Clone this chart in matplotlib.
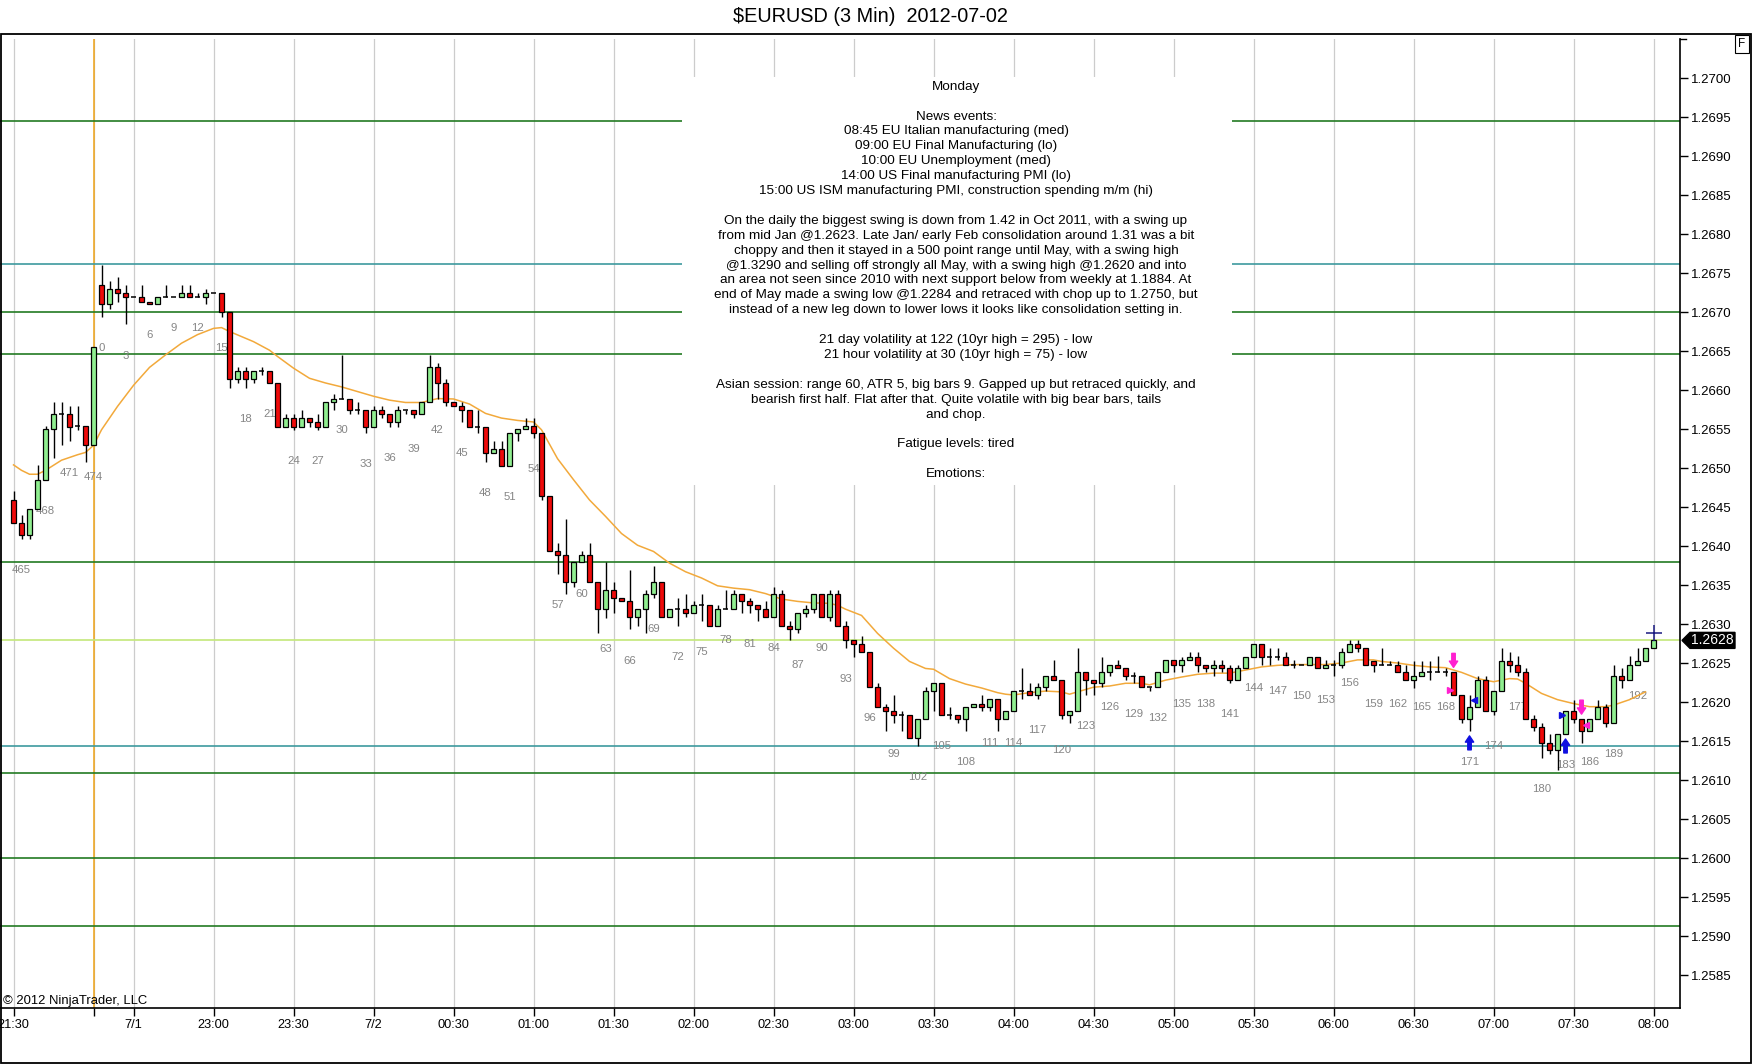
import numpy as np
import matplotlib.pyplot as plt
from matplotlib.patches import Rectangle, Polygon
from matplotlib.transforms import blended_transform_factory

plt.rcParams['font.family'] = ['Liberation Sans', 'DejaVu Sans']

# all prices below are in pips above 1.2600
BASE = 1.2600
PIP = 0.0001

# last bars of the Friday session, then the new session starting at bar 0
fri_bars = list(range(464, 475))
sun_bars = list(range(0, 195))

fri_open = [45.9, 42.9, 41.4, 44.8, 48.5, 55.0, 56.9, 56.9, 55.4, 55.4, 52.9]
fri_high = [47.0, 44.0, 44.8, 50.4, 55.4, 58.4, 58.4, 58.0, 58.0, 55.4, 65.5]
fri_low = [42.9, 40.9, 40.9, 44.8, 48.5, 51.3, 52.9, 53.4, 54.9, 50.8, 52.9]
fri_close = [42.9, 41.4, 44.8, 48.5, 55.0, 56.9, 56.9, 55.3, 55.4, 52.9, 65.5]

sun_open = [
    73.5, 71.0, 72.9, 72.4, 71.9, 71.9, 71.3, 71.0, 71.9, 71.9,
    71.9, 72.4, 71.9, 71.9, 72.4, 72.4, 70.0, 61.4, 62.4, 61.4,
    62.4, 62.4, 60.9, 55.3, 56.4, 55.3, 56.4, 55.9, 55.3, 58.4,
    58.9, 58.9, 57.4, 57.4, 55.3, 57.4, 56.9, 55.9, 57.4, 57.4,
    56.9, 58.4, 62.9, 60.9, 58.4, 58.0, 57.4, 55.3, 55.3, 51.9,
    52.4, 50.3, 54.5, 55.0, 55.4, 54.5, 46.4, 39.3, 38.8, 35.4,
    37.9, 38.8, 35.4, 31.9, 34.3, 33.3, 32.9, 30.9, 31.9, 33.8,
    35.4, 30.9, 31.9, 31.9, 31.4, 32.4, 32.4, 29.8, 31.9, 31.9,
    33.8, 32.9, 32.4, 31.9, 30.9, 33.8, 29.8, 29.3, 31.4, 31.9,
    33.8, 30.9, 33.8, 29.8, 27.9, 27.4, 26.4, 21.9, 19.3, 18.8,
    18.3, 18.3, 15.4, 17.8, 21.4, 22.4, 18.3, 18.3, 17.8, 19.3,
    19.8, 19.3, 20.4, 17.8, 18.8, 21.4, 21.4, 20.9, 21.9, 23.3,
    22.8, 18.3, 18.8, 23.8, 22.8, 22.4, 23.8, 24.8, 24.3, 23.3,
    23.3, 21.9, 21.9, 23.8, 25.4, 24.8, 25.4, 25.8, 24.8, 24.3,
    24.8, 24.3, 22.8, 24.3, 25.8, 27.4, 25.8, 25.8, 25.8, 24.8,
    24.8, 24.8, 25.8, 24.3, 24.8, 24.8, 26.4, 27.4, 26.9, 25.3,
    24.8, 24.8, 24.8, 23.8, 22.8, 23.3, 23.8, 23.8, 23.8, 23.8,
    20.9, 17.8, 19.3, 22.8, 18.8, 21.4, 25.3, 24.8, 23.8, 17.8,
    16.8, 14.8, 13.8, 15.9, 18.8, 17.8, 16.3, 17.8, 19.3, 17.3,
    23.3, 22.8, 24.8, 25.3, 26.9,
]
sun_high = [
    76.0, 74.0, 74.5, 73.5, 71.9, 73.5, 71.3, 71.9, 73.5, 71.9,
    73.5, 73.5, 72.4, 72.9, 72.4, 72.4, 70.0, 62.9, 62.9, 62.4,
    62.9, 62.4, 60.9, 56.9, 56.9, 57.4, 56.4, 56.9, 58.4, 59.5,
    64.5, 58.9, 58.4, 57.4, 58.0, 58.0, 56.9, 58.0, 57.4, 57.4,
    58.4, 64.5, 63.4, 61.4, 58.4, 58.4, 57.4, 57.4, 55.3, 53.4,
    53.4, 54.5, 55.0, 56.4, 56.4, 54.5, 46.4, 40.4, 43.5, 37.9,
    39.3, 40.4, 35.4, 37.9, 35.4, 33.3, 36.9, 31.9, 34.3, 37.4,
    35.4, 31.9, 33.3, 33.8, 32.9, 33.8, 32.4, 32.4, 34.3, 34.3,
    33.8, 33.3, 32.4, 32.9, 34.8, 34.3, 30.4, 31.4, 32.4, 33.8,
    33.8, 34.3, 34.3, 30.4, 27.9, 28.4, 26.4, 22.4, 19.8, 20.9,
    18.8, 18.3, 17.8, 21.9, 22.4, 22.4, 19.3, 18.3, 19.3, 19.8,
    20.9, 20.4, 20.4, 18.8, 21.4, 24.3, 22.4, 22.4, 23.3, 25.4,
    22.8, 18.8, 26.9, 23.8, 22.8, 25.8, 24.8, 25.4, 24.3, 23.8,
    23.3, 21.9, 23.8, 25.4, 25.4, 25.8, 26.4, 26.4, 24.8, 25.4,
    25.4, 24.8, 24.8, 25.8, 27.4, 27.4, 26.9, 26.9, 26.4, 25.4,
    24.8, 25.8, 25.8, 25.4, 25.4, 26.9, 27.9, 27.9, 26.9, 25.3,
    26.9, 25.3, 25.3, 24.8, 25.3, 25.3, 25.3, 25.9, 24.3, 23.8,
    20.9, 20.9, 23.3, 23.3, 21.4, 26.9, 26.4, 25.9, 24.3, 18.3,
    17.3, 15.9, 15.9, 18.8, 20.3, 17.8, 17.8, 20.3, 19.8, 24.8,
    24.3, 25.9, 26.9, 26.9, 27.9,
]
sun_low = [
    69.4, 70.4, 71.3, 68.4, 71.9, 71.3, 71.0, 71.0, 71.9, 71.9,
    71.9, 71.9, 71.9, 71.0, 72.4, 69.4, 60.3, 60.9, 60.3, 60.9,
    61.9, 60.9, 55.3, 55.3, 54.9, 55.3, 55.3, 54.9, 55.3, 57.4,
    58.9, 56.9, 56.9, 54.5, 55.3, 56.4, 55.3, 55.3, 56.9, 56.4,
    56.9, 58.4, 58.9, 58.0, 58.0, 55.9, 55.3, 54.5, 50.8, 51.9,
    50.3, 50.3, 53.4, 55.0, 53.9, 45.9, 39.3, 36.4, 33.8, 34.8,
    37.9, 35.4, 28.8, 30.8, 31.4, 32.9, 29.3, 29.8, 28.8, 33.3,
    30.9, 30.9, 29.8, 30.9, 31.4, 30.4, 29.8, 29.8, 31.9, 31.9,
    31.4, 31.4, 30.4, 30.9, 30.9, 29.8, 28.0, 28.8, 30.9, 31.4,
    30.9, 30.4, 29.8, 26.9, 25.8, 26.4, 21.9, 19.3, 16.3, 17.3,
    16.3, 15.4, 14.4, 17.8, 18.8, 18.3, 17.8, 17.3, 16.3, 19.3,
    18.8, 18.8, 16.3, 17.8, 18.8, 20.4, 20.9, 20.4, 21.4, 22.8,
    17.8, 17.3, 18.8, 20.9, 20.9, 21.9, 23.3, 24.3, 22.8, 22.4,
    21.9, 21.4, 21.9, 23.8, 23.8, 23.8, 25.4, 23.8, 23.8, 23.3,
    23.8, 22.4, 22.8, 24.3, 25.8, 24.8, 24.8, 25.4, 24.8, 24.3,
    24.8, 24.8, 24.3, 24.3, 23.3, 24.3, 26.4, 26.4, 24.8, 23.8,
    24.8, 24.8, 23.8, 22.8, 21.8, 23.3, 22.8, 23.8, 23.3, 20.9,
    17.3, 16.3, 19.3, 18.8, 18.3, 21.4, 23.8, 23.3, 17.8, 16.3,
    12.8, 13.3, 11.3, 15.9, 17.3, 14.8, 16.3, 17.8, 16.8, 17.3,
    21.8, 22.8, 24.8, 25.3, 26.9,
]
sun_close = [
    71.0, 72.9, 72.4, 71.9, 71.9, 71.3, 71.0, 71.9, 71.9, 71.9,
    72.4, 71.9, 71.9, 72.4, 72.4, 70.0, 61.4, 62.4, 61.4, 62.4,
    62.4, 60.9, 55.3, 56.4, 55.3, 56.4, 55.9, 55.3, 58.4, 58.9,
    58.9, 57.4, 57.4, 55.3, 57.4, 56.9, 55.9, 57.4, 57.4, 56.9,
    58.4, 62.9, 60.9, 58.4, 58.0, 57.4, 55.3, 55.3, 51.9, 52.4,
    50.3, 54.5, 55.0, 55.4, 54.5, 46.4, 39.3, 38.8, 35.4, 37.9,
    38.8, 35.4, 31.9, 34.3, 33.3, 32.9, 30.9, 31.9, 33.8, 35.4,
    30.9, 31.9, 31.9, 31.4, 32.4, 32.4, 29.8, 31.9, 31.9, 33.8,
    32.9, 32.4, 31.9, 30.9, 33.8, 29.8, 29.3, 31.4, 31.9, 33.8,
    30.9, 33.8, 29.8, 27.9, 27.4, 26.4, 21.9, 19.3, 18.8, 18.3,
    18.3, 15.4, 17.8, 21.4, 22.4, 18.3, 18.3, 17.8, 19.3, 19.8,
    19.3, 20.4, 17.8, 18.8, 21.4, 21.4, 20.9, 21.9, 23.3, 22.8,
    18.3, 18.8, 23.8, 22.8, 22.4, 23.8, 24.8, 24.3, 23.3, 23.3,
    21.9, 21.9, 23.8, 25.4, 24.8, 25.4, 25.8, 24.8, 24.3, 24.8,
    24.3, 22.8, 24.3, 25.8, 27.4, 25.8, 25.8, 25.8, 24.8, 24.8,
    24.8, 25.8, 24.3, 24.8, 24.8, 26.4, 27.4, 26.9, 24.8, 24.8,
    24.8, 24.8, 23.8, 22.8, 23.3, 23.8, 23.8, 23.8, 23.8, 20.9,
    17.8, 19.3, 22.8, 18.8, 21.4, 25.3, 24.8, 23.8, 17.8, 16.8,
    14.8, 13.8, 15.9, 18.8, 17.8, 16.3, 17.8, 19.3, 17.3, 23.3,
    22.8, 24.8, 25.3, 26.9, 27.9,
]

# moving average line (slot, pips)
ema_slot = [-11, -10, -9, -8, -7, -5, -3, -2, -1, 0, 2, 4, 6, 8, 10, 12, 14, 15,
            16, 19, 21, 22, 24, 26, 28, 30, 32, 34, 36, 38, 40, 42, 44, 46, 48, 50,
            52, 54, 55, 57, 59, 61, 63, 65, 67, 69, 71, 73, 75, 77, 79, 81, 83, 85,
            87, 89, 91, 92, 93, 95, 97, 99, 101, 103, 104, 106, 108, 110, 112, 113,
            114, 116, 118, 120, 121, 122, 124, 126, 128, 130, 131, 133, 135, 137,
            139, 141, 143, 145, 147, 149, 151, 153, 155, 157, 159, 160, 162, 164,
            166, 168, 170, 172, 174, 176, 177, 178, 180, 182, 184, 186, 188, 189,
            191, 193]
ema_val = [50.4, 49.7, 49.2, 49.2, 49.7, 51.0, 51.7, 52.0, 52.9, 54.9, 57.9, 60.6,
           62.9, 64.5, 66.0, 67.1, 67.9, 68.0, 67.5, 66.2, 65.1, 64.3, 62.8, 61.5,
           60.9, 60.4, 59.8, 59.2, 58.7, 58.4, 58.4, 58.9, 58.85, 58.2, 57.0, 56.4,
           56.1, 55.9, 54.9, 51.2, 48.5, 45.9, 43.8, 41.6, 40.1, 39.3, 37.8, 36.7,
           35.9, 34.9, 34.6, 34.4, 33.9, 33.2, 32.9, 32.7, 32.65, 32.4, 31.9, 31.1,
           28.8, 26.9, 25.2, 24.3, 24.2, 23.0, 22.3, 21.8, 21.2, 21.0, 20.9, 21.2,
           21.4, 21.3, 21.0, 21.3, 21.9, 22.05, 22.4, 22.4, 22.2, 22.8, 23.2, 23.55,
           23.7, 23.7, 24.1, 24.5, 24.7, 24.8, 24.8, 24.8, 25.0, 25.4, 25.4, 25.2,
           25.0, 24.7, 24.5, 24.4, 23.8, 23.0, 22.6, 23.0, 22.95, 22.4, 21.1, 20.3,
           19.8, 19.4, 19.4, 19.6, 20.3, 21.3]

# horizontal levels (price)
level_prices = [1.26945, 1.26762, 1.26700, 1.26646, 1.26380, 1.26279,
                1.26144, 1.26109, 1.26000, 1.25913]
level_colors = ['#237a23', '#3d9a9e', '#237a23', '#237a23', '#237a23', '#c4e87a',
                '#3d9a9e', '#237a23', '#237a23', '#237a23']

# trade signals: bar number and entry/exit fills (pips)
long_bars = [171, 183]
short_bars = [169, 185]
fill_bars = [169, 171, 183, 185]
fill_prices = [21.5, 20.3, 18.3, 17.0]
fill_colors = ['#ff20d0', '#1010e0', '#1010e0', '#ff20d0']
fill_side = [-1, 1, -1, 1]
cross_bar = 194
cross_price = 28.8

tick_slots = [-11, -1, 4, 14, 24, 34, 44, 54, 64, 74, 84, 94, 104, 114, 124,
              134, 144, 154, 164, 174, 184, 194]
tick_labels = ['21:30', '', '7/1', '23:00', '23:30', '7/2', '00:30', '01:00',
               '01:30', '02:00', '02:30', '03:00', '03:30', '04:00', '04:30',
               '05:00', '05:30', '06:00', '06:30', '07:00', '07:30', '08:00']
session_break = -1

notes = [
    "Monday", "", "News events:",
    "08:45 EU Italian manufacturing (med)",
    "09:00 EU Final Manufacturing (lo)",
    "10:00 EU Unemployment (med)",
    "14:00 US Final manufacturing PMI (lo)",
    "15:00 US ISM manufacturing PMI, construction spending m/m (hi)", "",
    "On the daily the biggest swing is down from 1.42 in Oct 2011, with a swing up",
    "from mid Jan @1.2623. Late Jan/ early Feb consolidation around 1.31 was a bit",
    "choppy and then it stayed in a 500 point range until May, with a swing high",
    "@1.3290 and selling off strongly all May, with a swing high @1.2620 and into",
    "an area not seen since 2010 with next support below from weekly at 1.1884. At",
    "end of May made a swing low @1.2284 and retraced with chop up to 1.2750, but",
    "instead of a new leg down to lower lows it looks like consolidation setting in.",
    "",
    "21 day volatility at 122 (10yr high = 295) - low",
    "21 hour volatility at 30 (10yr high = 75) - low", "",
    "Asian session: range 60, ATR 5, big bars 9. Gapped up but retraced quickly, and",
    "bearish first half. Flat after that. Quite volatile with big bear bars, tails",
    "and chop.", "",
    "Fatigue levels: tired", "",
    "Emotions:",
]

# ---------------------------------------------------------------------------
bars = fri_bars + sun_bars
slots = np.concatenate([np.array(fri_bars) - 475, np.array(sun_bars)])
o = BASE + np.array(fri_open + sun_open) * PIP
h = BASE + np.array(fri_high + sun_high) * PIP
l = BASE + np.array(fri_low + sun_low) * PIP
c = BASE + np.array(fri_close + sun_close) * PIP

W, H = 1752, 1064


def fx(px):
    return px / W


def fy(py):
    return 1 - py / H


fig = plt.figure(figsize=(W / 100, H / 100), dpi=100)
ax = fig.add_axes([0, fy(1008), fx(1680), (1008 - 39) / H])
ax.set_xlim(-12.69, 197.31)
ax.set_ylim(1.258077, 1.2705)

for side in ['top', 'left']:
    ax.spines[side].set_visible(False)
for side in ['bottom', 'right']:
    ax.spines[side].set_linewidth(1.2)

# grid + session break
for s in tick_slots:
    ax.axvline(s, color='#cccccc', lw=0.9, zorder=0.5)
ax.axvline(session_break, color='#f0a418', lw=1.1, zorder=1)

for p, col in zip(level_prices, level_colors):
    ax.axhline(p, color=col, lw=1.2, zorder=1.5)

# notes box hides the lines behind it
ax.add_patch(Rectangle((fx(682), fy(485)), fx(1232) - fx(682), (485 - 77) / H,
                       transform=fig.transFigure, facecolor='white',
                       edgecolor='none', zorder=3))

ax.plot(ema_slot, BASE + np.array(ema_val) * PIP, color='#f2a93b', lw=1.1, zorder=3.5)

# bar numbers every 3 bars
for b, s, lo in zip(bars, slots, l):
    if b % 3 == 0:
        ax.text(s, lo - 4.0 * PIP, str(b), ha='center', va='center',
                fontsize=8.2, color='#858585', zorder=2.5)

# candles
bw = 0.72
for s, op, hi, lo, cl in zip(slots, o, h, l, c):
    ax.vlines(s, min(lo, op, cl), max(hi, op, cl), color='black', lw=1, zorder=4)
    if abs(cl - op) < 0.2 * PIP:
        ax.hlines(op, s - bw / 2, s + bw / 2, color='black', lw=1.1, zorder=5)
    else:
        col = '#90ee90' if cl > op else '#ee0a0a'
        ax.add_patch(Rectangle((s - bw / 2, min(op, cl)), bw, abs(cl - op),
                               facecolor=col, edgecolor='black', lw=0.9, zorder=5))

# signal arrows
arrow_style = 'simple,head_length=0.45,head_width=0.6,tail_width=0.25'
for b in long_bars:
    i = bars.index(b)
    ax.annotate('', xy=(slots[i], l[i]), xytext=(0, -19), textcoords='offset pixels',
                arrowprops=dict(arrowstyle=arrow_style, fc='#1010e0', ec='#1010e0',
                                shrinkA=0, shrinkB=3.6), zorder=6)
for b in short_bars:
    i = bars.index(b)
    ax.annotate('', xy=(slots[i], h[i]), xytext=(0, 19), textcoords='offset pixels',
                arrowprops=dict(arrowstyle=arrow_style, fc='#ff20d0', ec='#ff20d0',
                                shrinkA=0, shrinkB=3.6), zorder=6)
for b, p, col, sd in zip(fill_bars, fill_prices, fill_colors, fill_side):
    ax.plot(b + 0.5 * sd, BASE + p * PIP, marker='<' if sd > 0 else '>',
            color=col, ms=5, zorder=6, linestyle='none')
ax.plot(cross_bar, BASE + cross_price * PIP, marker='+', color='#1a1a80',
        ms=12, mew=1.1, zorder=6)

# axes ticks
ax.set_xticks(tick_slots)
ax.set_xticklabels(tick_labels)
ax.tick_params(axis='x', direction='out', length=6, width=1, pad=2, labelsize=9.2)
ax.yaxis.tick_right()
yt = np.round(np.arange(1.2585, 1.27001, 0.0005), 4)
ax.set_yticks(yt)
ax.set_yticklabels([f'{v:.4f}' for v in yt])
ax.tick_params(axis='y', direction='out', length=6, width=1, pad=2, labelsize=9.5)
ax.plot([1, 1 + 6 / 1680], [1, 1], transform=ax.transAxes, color='black',
        lw=1, clip_on=False)

# current price tag
trans = blended_transform_factory(ax.transAxes, ax.transData)
last = c[-1]
dx = 1 / 1680
dy = (1.2705 - 1.258077) / (1008 - 39)
tag = [(1 + 2 * dx, last), (1 + 10 * dx, last + 8 * dy), (1 + 55 * dx, last + 8 * dy),
       (1 + 55 * dx, last - 8 * dy), (1 + 10 * dx, last - 8 * dy)]
ax.add_patch(Polygon(tag, closed=True, transform=trans, facecolor='black',
                     edgecolor='black', clip_on=False, zorder=7))
ax.text(1 + 32 * dx, last, f'{last:.4f}', transform=trans, color='white',
        fontsize=10, ha='center', va='center', zorder=8, clip_on=False)

# notes text
for k, line in enumerate(notes):
    if line:
        fig.text(fx(956), fy(86.7 + 14.9 * k), line, ha='center', va='center',
                 fontsize=9.7, color='black')

fig.text(fx(870), fy(16.7), '$EURUSD (3 Min)  2012-07-02', ha='center',
         va='center', fontsize=14.3)
fig.text(fx(3), fy(1000.7), '\u00a9 2012 NinjaTrader, LLC', ha='left',
         va='center', fontsize=9.4)
fig.text(fx(1742), fy(44), 'F', ha='center', va='center', fontsize=8.5,
         bbox=dict(boxstyle='square,pad=0.25', fc='white', ec='black', lw=0.8))

# outer frame
fig.add_artist(Rectangle((fx(0.6), fy(1063)), fx(1750.4), (1063 - 34) / H,
                         transform=fig.transFigure, fill=False,
                         edgecolor='black', lw=1.3))

fig.savefig('out.png', dpi=100)
